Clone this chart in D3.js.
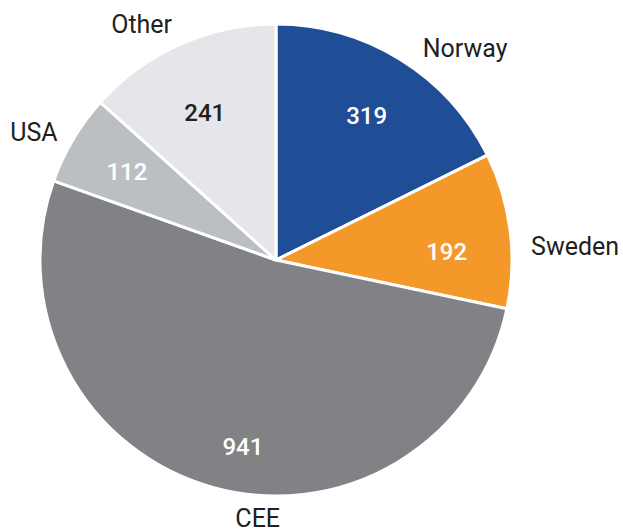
<!DOCTYPE html>
<html>
<head>
<meta charset="utf-8">
<script src="https://cdn.jsdelivr.net/npm/d3@7"></script>
<style>
  body { margin: 0; background: #fff; }
  svg { display: block; font-family: Roboto, "Noto Sans", sans-serif; }
</style>
</head>
<body>
<svg id="chart"></svg>
<script>
// data
var regions = ["Norway", "Sweden", "CEE", "USA", "Other"];
var amounts = [319, 192, 941, 112, 241];
var sliceColors = ["#1f4e96", "#f5982a", "#808285", "#bbbfc2", "#e5e6e9"];
var valueColors = ["#ffffff", "#ffffff", "#ffffff", "#ffffff", "#231f20"];

// label tweaks (layout only): inner label pixel nudge, outer label angle shift (deg) and extra gap
var innerNudge = [[1, 0], [2, 13], [13, 23], [-3, -1], [-2, 8]];
var outerShift = [10, 4.5, -11.7, -3, -5.6];
var outerExtra = [0, 7, -1, 0, 0];

var width = 623, height = 530;
var cx = 276, cy = 260, radius = 236;

var svg = d3.select("#chart")
    .attr("width", width)
    .attr("height", height);

var g = svg.append("g")
    .attr("transform", "translate(" + cx + "," + cy + ")");

var pie = d3.pie()
    .sort(null)
    .value(function(d) { return d; });

var arcs = pie(amounts);

var arc = d3.arc()
    .innerRadius(0)
    .outerRadius(radius);

var labelArc = d3.arc()
    .innerRadius(170)
    .outerRadius(170);

// slices
g.selectAll("path.slice")
    .data(arcs)
    .enter()
    .append("path")
    .attr("class", "slice")
    .attr("d", arc)
    .style("fill", function(d, i) { return sliceColors[i]; })
    .style("stroke", "#fff")
    .style("stroke-width", 3)
    .style("stroke-linejoin", "round");

// values inside slices
g.selectAll("text.value")
    .data(arcs)
    .enter()
    .append("text")
    .attr("class", "value")
    .attr("transform", function(d, i) {
        var c = labelArc.centroid(d);
        return "translate(" + (c[0] + innerNudge[i][0]) + "," + (c[1] + innerNudge[i][1]) + ")";
    })
    .attr("dy", "0.35em")
    .attr("text-anchor", "middle")
    .style("font-size", "24px")
    .style("font-weight", 500)
    .style("fill", function(d, i) { return valueColors[i]; })
    .text(function(d) { return d.data; });

// category names outside, box pushed out from the rim
var gap = 248, halfH = 10;
g.selectAll("text.name")
    .data(arcs)
    .enter()
    .append("text")
    .attr("class", "name")
    .attr("dy", "0.35em")
    .attr("text-anchor", "middle")
    .style("font-size", "25px")
    .style("fill", "#231f20")
    .text(function(d, i) { return regions[i]; })
    .each(function(d, i) {
        var a = (d.startAngle + d.endAngle) / 2 + outerShift[i] * Math.PI / 180;
        var sx = Math.sin(a), sy = -Math.cos(a);
        var halfW = this.getComputedTextLength() / 2;
        var dist = gap + outerExtra[i] + halfW * Math.abs(sx) + halfH * Math.abs(sy);
        d3.select(this).attr("x", sx * dist).attr("y", sy * dist);
    });
</script>
</body>
</html>
